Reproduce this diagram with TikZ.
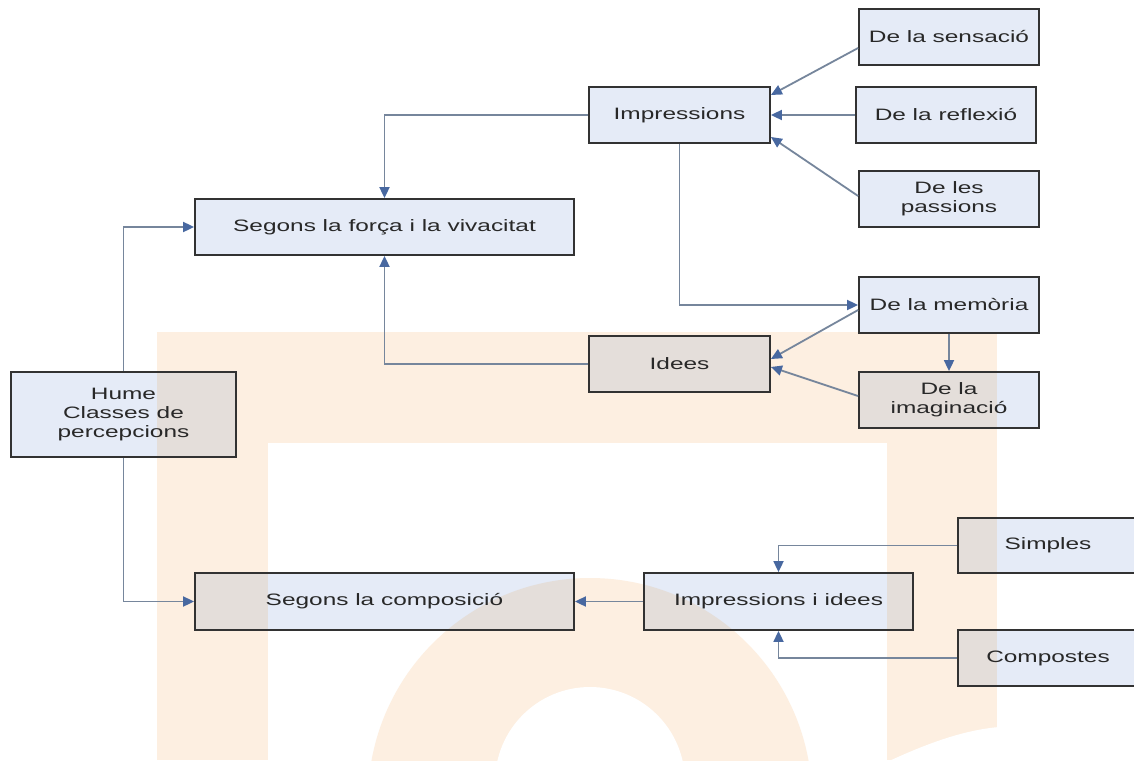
\documentclass[tikz,border=0pt]{standalone}
\usepackage{fontspec}
\setmainfont{Liberation Sans}[FakeStretch=1.48]
\usetikzlibrary{arrows.meta,calc}
\definecolor{boxfill}{RGB}{229,235,247}
\definecolor{boxdraw}{RGB}{50,50,50}
\definecolor{linecol}{RGB}{118,134,156}
\definecolor{tipcol}{RGB}{72,104,160}
\definecolor{peach}{RGB}{253,239,225}
\definecolor{tint}{RGB}{228,222,218}
\definecolor{txt}{RGB}{40,40,40}
\newcommand\wmark[2]{%
  \fill[#1] (157,332) rectangle (997,760);
  \fill[#2] (268,443) rectangle (887,760);
  \fill[#1] (590,800) circle[radius=222pt];
  \fill[#2] (590,782) circle[radius=95pt];
  \fill[#2] (887,762) .. controls (930,742) and (965,730) .. (999,727) -- (999,762) -- cycle;
}
\begin{document}
\begin{tikzpicture}[x=1pt,y=-1pt,
  shell/.style={fill=boxfill, draw=none, minimum height=56pt, inner sep=0pt},
  box/.style={draw=boxdraw, line width=1.8pt, fill=none, text=txt,
    minimum height=56pt, inner sep=0pt, align=center,
    font=\fontsize{16.5}{19}\selectfont},
  conn/.style={draw=linecol, line width=1.8pt,
    -{Triangle[length=11pt,width=10pt,color=tipcol]}}]
\useasboundingbox[fill=white] (0,0) rectangle (1134,760);

% background watermark
\wmark{peach}{white}

% box backgrounds
\node[shell, minimum width=180pt] (sens-bg) at (949,37) {};
\node[shell, minimum width=180pt] (refl-bg) at (946,115) {};
\node[shell, minimum width=180pt] (pass-bg) at (949,199) {};
\node[shell, minimum width=181pt] (impr-bg) at (679.5,115) {};
\node[shell, minimum width=379pt] (forca-bg) at (384.5,227) {};
\node[shell, minimum width=180pt] (mem-bg) at (949,305) {};
\node[shell, minimum width=181pt] (idees-bg) at (679.5,364) {};
\node[shell, minimum width=180pt] (imag-bg) at (949,400) {};
\node[shell, minimum width=225pt, minimum height=85pt] (hume-bg) at (123.5,414.5) {};
\node[shell, minimum width=180pt, minimum height=55pt] (simp-bg) at (1048,545.5) {};
\node[shell, minimum width=180pt] (comp-bg) at (1048,658) {};
\node[shell, minimum width=379pt, minimum height=57pt] (compo-bg) at (384.5,601.5) {};
\node[shell, minimum width=269pt, minimum height=57pt] (ii-bg) at (778.5,601.5) {};

% watermark tint seen through the boxes
\foreach \n in {mem,idees,imag,hume,simp,comp,compo,ii}{
  \begin{scope}
    \clip (\n-bg.south west) rectangle (\n-bg.north east);
    \wmark{tint}{boxfill}
  \end{scope}
}

% boxes with text
\node[box, minimum width=180pt] (sens) at (949,37) {De la sensació};
\node[box, minimum width=180pt] (refl) at (946,115) {De la reflexió};
\node[box, minimum width=180pt] (pass) at (949,199) {De les\\passions};
\node[box, minimum width=181pt] (impr) at (679.5,115) {Impressions};
\node[box, minimum width=379pt] (forca) at (384.5,227) {Segons la força i la vivacitat};
\node[box, minimum width=180pt] (mem) at (949,305) {De la memòria};
\node[box, minimum width=181pt] (idees) at (679.5,364) {Idees};
\node[box, minimum width=180pt] (imag) at (949,400) {De la\\imaginació};
\node[box, minimum width=225pt, minimum height=85pt] (hume) at (123.5,414.5) {Hume\\Classes de\\percepcions};
\node[box, minimum width=180pt, minimum height=55pt] (simp) at (1048,545.5) {Simples};
\node[box, minimum width=180pt] (comp) at (1048,658) {Compostes};
\node[box, minimum width=379pt, minimum height=57pt] (compo) at (384.5,601.5) {Segons la composició};
\node[box, minimum width=269pt, minimum height=57pt] (ii) at (778.5,601.5) {Impressions i idees};

% connectors
\draw[conn] (impr.west) -| (forca.north);
\draw[conn] (idees.west) -| (forca.south);
\draw[conn] (hume.north) |- (forca.west);
\draw[conn] (hume.south) |- (compo.west);
\draw[conn] (impr.south) |- (mem.west);
\draw[conn] ([yshift=-11pt]sens.west) -- ([yshift=20pt]impr.east);
\draw[conn] (refl.west) -- (impr.east);
\draw[conn] ([yshift=3pt]pass.west) -- ([yshift=-22pt]impr.east);
\draw[conn] ([yshift=-5pt]mem.west) -- ([yshift=5pt]idees.east);
\draw[conn] ([yshift=4pt]imag.west) -- ([yshift=-3pt]idees.east);
\draw[conn] (mem.south) -- (imag.north);
\draw[conn] (simp.west) -| (ii.north);
\draw[conn] (comp.west) -| (ii.south);
\draw[conn] (ii.west) -- (compo.east);
\end{tikzpicture}
\end{document}
